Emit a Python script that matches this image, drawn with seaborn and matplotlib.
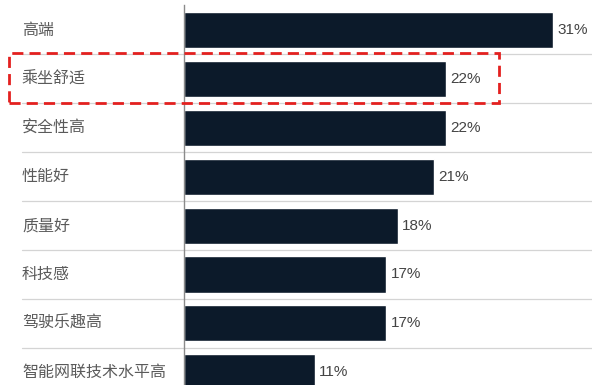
import matplotlib
matplotlib.use("Agg")
import matplotlib.pyplot as plt
import seaborn as sns
import pandas as pd
from matplotlib.patches import Rectangle
import matplotlib.transforms as mtransforms

categories = ["高端", "乘坐舒适", "安全性高", "性能好", "质量好", "科技感", "驾驶乐趣高", "智能网联技术水平高"]
values = [31, 22, 22, 21, 18, 17, 17, 11]
value_labels = ["31%", "22%", "22%", "21%", "18%", "17%", "17%", "11%"]

sns.set_theme(style="white")
plt.rcParams['font.family'] = ['Noto Sans CJK SC', 'DejaVu Sans']

W, H = 592, 385
fig = plt.figure(figsize=(W / 100, H / 100), dpi=100)
ax_left = 184 / W
ax_top = 5 / H
ax = fig.add_axes([ax_left, 0, 1 - ax_left, 1 - ax_top])

df = pd.DataFrame({"cat": categories, "val": values})
bar_color = "#0c1a2a"
sns.barplot(data=df, x="val", y="cat", color=bar_color, saturation=1,
            width=0.74, orient="h", ax=ax)

px_per_unit_x = 11.9
ax.set_xlim(0, (W - 184) / px_per_unit_x)
row_px = 48.9
ax.set_ylim((385 - 30) / row_px, -(30 - 5) / row_px)

for s in ["top", "right", "bottom"]:
    ax.spines[s].set_visible(False)
ax.spines["left"].set_color("#8a8a8a")
ax.spines["left"].set_linewidth(1.0)
ax.set_xticks([])
ax.set_yticks([])
ax.set_xlabel("")
ax.set_ylabel("")

# separators between rows, spanning from label area to right edge
sep_trans = mtransforms.blended_transform_factory(fig.transFigure, ax.transData)
for i in range(len(categories) - 1):
    ax.plot([22 / W, 1.0], [i + 0.5, i + 0.5], transform=sep_trans,
            color="#d4d4d4", lw=0.9, clip_on=False, zorder=0)

# category labels
for i, c in enumerate(categories):
    ax.text(22 / W, i, c, transform=sep_trans, ha="left", va="center",
            fontsize=11.5, color="#5a5a5a",
            family=['Noto Sans CJK SC', 'DejaVu Sans'])

# value labels
for i, (v, lab) in enumerate(zip(values, value_labels)):
    ax.text(v + 0.35, i, lab, ha="left", va="center", fontsize=11,
            color="#444444", family=['Liberation Sans', 'DejaVu Sans'])

# red dashed highlight box
rect = Rectangle((9 / W, 1 - 103 / H), (499 - 9) / W, (103 - 53) / H,
                 transform=fig.transFigure, fill=False, edgecolor="#e3201f",
                 lw=2.0, linestyle=(0, (4, 2.2)), zorder=10)
fig.patches.append(rect)

fig.savefig("out.png", dpi=100)
